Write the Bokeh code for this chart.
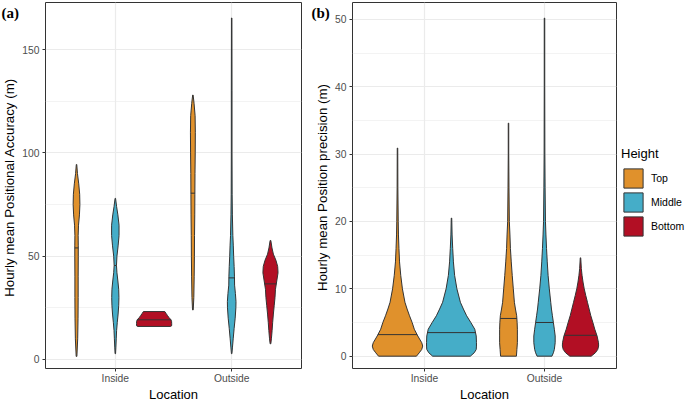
import numpy as np
from bokeh.plotting import figure
from bokeh.models import Range1d, FixedTicker, Label, Legend, LegendItem
from bokeh.layouts import row
from bokeh.embed import file_html
from bokeh.resources import INLINE

# ---------------- data ----------------
locations = ["Inside", "Outside"]
heights = ["Top", "Middle", "Bottom"]
colors = ["#E0912C", "#45ADC8", "#B20F24"]

# Panel (a): Hourly mean Positional Accuracy (m); y values and violin half-widths (x units)
a_in_top_y = [1.5, 10, 20, 30, 40, 50, 55, 60, 65, 70, 75, 80, 85, 90, 94.4]
a_in_top_w = [0.003, 0.010, 0.013, 0.014, 0.014, 0.015, 0.015, 0.014, 0.017, 0.025, 0.029, 0.027, 0.019, 0.008, 0.002]
a_in_mid_y = [2.8, 6, 10, 14, 18, 22, 26, 30, 34, 38, 42, 45.5, 50, 55, 60, 65, 70, 74, 78]
a_in_mid_w = [0.002, 0.005, 0.008, 0.011, 0.017, 0.024, 0.029, 0.031, 0.029, 0.022, 0.014, 0.010, 0.014, 0.024, 0.032, 0.032, 0.022, 0.011, 0.002]
a_in_bot_y = [16.0, 16.2, 16.6, 17.5, 18.5, 19.3, 20.2, 21.2, 22.2, 23.2]
a_in_bot_w = [0.140, 0.149, 0.151, 0.151, 0.150, 0.144, 0.129, 0.116, 0.104, 0.092]
a_out_top_y = [24, 30, 40, 50, 60, 70, 80, 90, 100, 110, 118, 124, 128]
a_out_top_w = [0.003, 0.008, 0.011, 0.013, 0.014, 0.016, 0.017, 0.018, 0.020, 0.021, 0.019, 0.010, 0.002]
a_out_mid_y = [2.8, 6, 10, 15, 20, 25, 28, 32, 36, 40, 45, 50, 55, 60, 70, 80, 100, 130, 165.3]
a_out_mid_w = [0.002, 0.007, 0.013, 0.021, 0.030, 0.036, 0.037, 0.032, 0.025, 0.024, 0.021, 0.017, 0.014, 0.010, 0.006, 0.004, 0.003, 0.003, 0.002]
a_out_bot_y = [7.6, 10, 14, 18, 22, 26, 30, 34, 38, 42, 45, 48, 51, 54, 57.6]
a_out_bot_w = [0.003, 0.008, 0.014, 0.019, 0.025, 0.032, 0.039, 0.043, 0.054, 0.065, 0.062, 0.047, 0.025, 0.013, 0.003]
a_median_inside = [54.0, 45.5, 19.2]
a_median_outside = [80.5, 39.5, 36.6]
a_yticks = [0, 50, 100, 150]
a_yminor = [25, 75, 125]

# Panel (b): Hourly mean Position precision (m)
b_in_top_y = [0, 0.5, 1, 1.5, 2, 3, 4, 5, 6, 7, 8, 10, 12, 14, 16, 18, 20, 25, 30.9]
b_in_top_w = [0.158, 0.181, 0.202, 0.210, 0.202, 0.169, 0.140, 0.122, 0.100, 0.080, 0.062, 0.041, 0.027, 0.017, 0.012, 0.008, 0.006, 0.003, 0.002]
b_in_mid_y = [0, 0.5, 1, 1.5, 2, 3, 4, 5, 6, 7, 8, 10, 12, 14, 16, 18, 20.5]
b_in_mid_w = [0.157, 0.189, 0.206, 0.208, 0.208, 0.206, 0.194, 0.161, 0.126, 0.099, 0.074, 0.045, 0.026, 0.016, 0.010, 0.005, 0.002]
b_out_top_y = [0, 1, 2, 3, 4, 5, 6, 7, 8, 10, 12, 14, 16, 18, 20, 25, 30, 34.6]
b_out_top_w = [0.066, 0.070, 0.074, 0.074, 0.074, 0.072, 0.068, 0.058, 0.049, 0.040, 0.031, 0.023, 0.016, 0.012, 0.007, 0.004, 0.002, 0.002]
b_out_mid_y = [0, 0.5, 1, 2, 3, 4, 5, 6, 7, 8, 10, 12, 14, 16, 18, 20, 25, 30, 40, 50.2]
b_out_mid_w = [0.062, 0.074, 0.082, 0.089, 0.089, 0.082, 0.074, 0.066, 0.058, 0.052, 0.040, 0.030, 0.023, 0.017, 0.012, 0.008, 0.005, 0.003, 0.002, 0.002]
b_out_bot_y = [0, 0.5, 1, 1.5, 2, 3, 4, 5, 6, 7, 8, 9, 10, 11, 12, 13, 14.6]
b_out_bot_w = [0.089, 0.124, 0.144, 0.151, 0.150, 0.138, 0.119, 0.103, 0.086, 0.072, 0.058, 0.044, 0.031, 0.021, 0.013, 0.007, 0.002]
b_median_inside = [3.2, 3.5]
b_median_outside = [5.6, 5.0, 3.1]
b_yticks = [0, 10, 20, 30, 40, 50]
b_yminor = [5, 15, 25, 35, 45]

# ---------------- styling helpers ----------------
FONT = "Liberation Sans"
OUTLINE = "#333333"
GRID = "#EBEBEB"
FIG_H = 404
TOP = 2
BOTTOM = 36
FRAME_B = FIG_H - BOTTOM   # frame bottom in page pixels


def make_fig(width, left, right, yr, yticks, yminor):
    p = figure(width=width, height=FIG_H, output_backend="svg", toolbar_location=None,
               x_range=Range1d(0.4, 2.6), y_range=Range1d(*yr),
               min_border_left=left, min_border_right=right,
               min_border_top=TOP, min_border_bottom=BOTTOM)
    p.outline_line_color = OUTLINE
    p.outline_line_width = 1
    p.background_fill_color = "white"
    p.border_fill_color = "white"
    p.xaxis.ticker = FixedTicker(ticks=[1, 2])
    p.xaxis.major_label_overrides = {1: locations[0], 2: locations[1]}
    p.yaxis.ticker = FixedTicker(ticks=yticks, minor_ticks=yminor)
    for ax in (p.xaxis[0], p.yaxis[0]):
        ax.axis_line_color = None
        ax.major_tick_line_color = OUTLINE
        ax.major_tick_out = 3
        ax.major_tick_in = 0
        ax.minor_tick_line_color = None
        ax.major_label_text_font = FONT
        ax.major_label_text_font_size = "10.3px"
        ax.major_label_text_color = "#4D4D4D"
        ax.major_label_standoff = 2
    p.xaxis.major_label_standoff = 1
    p.xaxis.axis_label = "Location"
    p.xaxis.axis_label_text_font = FONT
    p.xaxis.axis_label_text_font_size = "13px"
    p.xaxis.axis_label_text_font_style = "normal"
    p.xaxis.axis_label_text_color = "black"
    p.xaxis.axis_label_standoff = 0
    p.xgrid.grid_line_color = GRID
    p.xgrid.grid_line_width = 1.2
    p.ygrid.grid_line_color = GRID
    p.ygrid.grid_line_width = 1.2
    p.ygrid.minor_grid_line_color = GRID
    p.ygrid.minor_grid_line_width = 0.6
    return p


def blank(width):
    # axis-less figure whose frame spans the same rows as the panels; data units = page pixels
    s = figure(width=width, height=FIG_H, output_backend="svg", toolbar_location=None,
               x_range=Range1d(0, width), y_range=Range1d(FRAME_B, TOP),
               x_axis_type=None, y_axis_type=None,
               min_border_left=0, min_border_right=0, min_border_top=TOP, min_border_bottom=BOTTOM)
    s.outline_line_color = None
    s.grid.visible = False
    s.background_fill_color = "white"
    s.border_fill_color = "white"
    return s


def text_strip(width, ylabel, tag, tag_x, ylab_x):
    s = blank(width)
    s.add_layout(Label(x=ylab_x, y=(TOP + FRAME_B) / 2 + 2, text=ylabel,
                       angle=np.pi / 2, text_align="center", text_baseline="middle",
                       text_font=FONT, text_font_size="13.3px", text_color="black"))
    s.add_layout(Label(x=tag_x, y=TOP + 2, text=tag,
                       text_align="left", text_baseline="top",
                       text_font="Liberation Serif", text_font_style="bold",
                       text_font_size="15px", text_color="black"))
    return s


def violin(p, xc, ys, ws, med, color):
    ys = np.asarray(ys, dtype=float)
    ws = np.asarray(ws, dtype=float)
    xs = np.concatenate([xc - ws, (xc + ws)[::-1]])
    yy = np.concatenate([ys, ys[::-1]])
    r = p.patch(xs, yy, fill_color=color, line_color=OUTLINE, line_width=1.0)
    mw = float(np.interp(med, ys, ws))
    p.segment(x0=[xc - mw], y0=[med], x1=[xc + mw], y1=[med], line_color=OUTLINE, line_width=1.0)
    return r


# ---------------- panel (a) ----------------
ta = text_strip(19, "Hourly mean Positional Accuracy (m)", "(a)", 1, 8.5)
yr_a = (-4.36, 172.8)
pa = make_fig(286, 23, 4, yr_a, a_yticks, a_yminor)
a_in = [(a_in_top_y, a_in_top_w), (a_in_mid_y, a_in_mid_w), (a_in_bot_y, a_in_bot_w)]
a_out = [(a_out_top_y, a_out_top_w), (a_out_mid_y, a_out_mid_w), (a_out_bot_y, a_out_bot_w)]
a_off = [-1 / 3, 0.0, 1 / 3]
for i in range(3):
    violin(pa, 1 + a_off[i], a_in[i][0], a_in[i][1], a_median_inside[i], colors[i])
    violin(pa, 2 + a_off[i], a_out[i][0], a_out[i][1], a_median_outside[i], colors[i])

# ---------------- panel (b) ----------------
tb = text_strip(27, "Hourly mean Position precision (m)", "(b)", 6, 17)
yr_b = (-1.83, 52.51)
pb = make_fig(285, 17, 1, yr_b, b_yticks, b_yminor)
b_in = [(b_in_top_y, b_in_top_w), (b_in_mid_y, b_in_mid_w)]
b_out = [(b_out_top_y, b_out_top_w), (b_out_mid_y, b_out_mid_w), (b_out_bot_y, b_out_bot_w)]
for i, (ys, ws) in enumerate(b_in):
    off = (i - (len(b_in) - 1) / 2) * 0.9 / len(b_in)
    violin(pb, 1 + off, ys, ws, b_median_inside[i], colors[i])
for i, (ys, ws) in enumerate(b_out):
    off = (i - (len(b_out) - 1) / 2) * 0.9 / len(b_out)
    violin(pb, 2 + off, ys, ws, b_median_outside[i], colors[i])

# ---------------- legend (own strip) ----------------
lg = blank(68)
proxies = [lg.quad(left=[np.nan], right=[np.nan], top=[np.nan], bottom=[np.nan],
                   fill_color=c, line_color=OUTLINE, line_width=1.0) for c in colors]
legend = Legend(items=[LegendItem(label=h, renderers=[r]) for h, r in zip(heights, proxies)],
                title="Height", location=(4, 130),
                title_text_font=FONT, title_text_font_size="13px", title_text_font_style="normal",
                title_text_color="black", title_standoff=5,
                label_text_font=FONT, label_text_font_size="10.5px", label_text_color="black",
                glyph_width=24, glyph_height=24, spacing=-2, label_standoff=6,
                padding=0, margin=0, border_line_color=None, background_fill_alpha=0)
lg.add_layout(legend)

layout = row(ta, pa, tb, pb, lg)
open("out.html", "w").write(file_html(layout, INLINE))
